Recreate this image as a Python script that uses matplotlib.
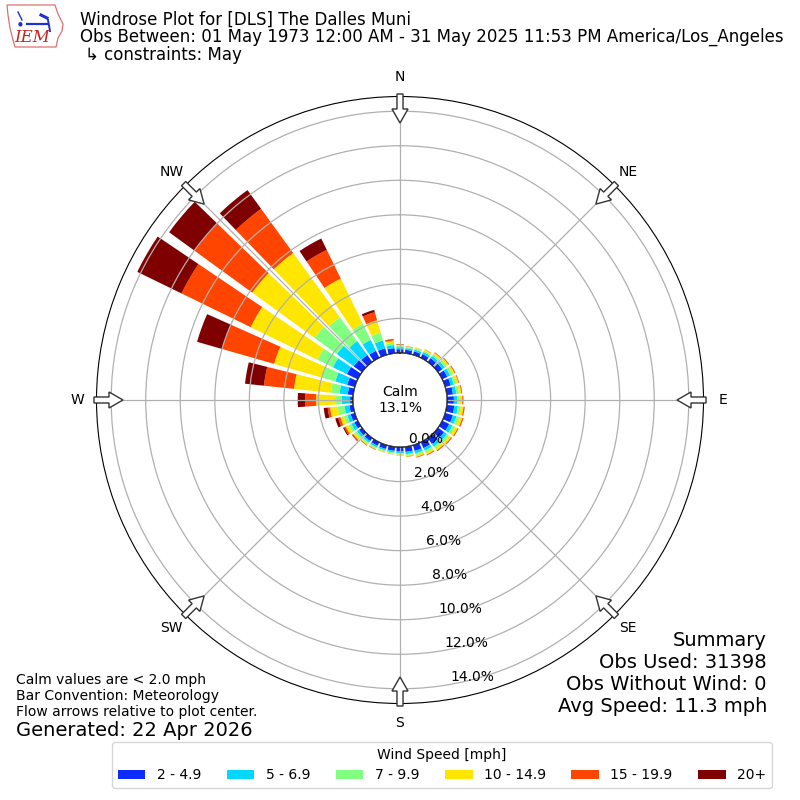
import numpy as np
import matplotlib
matplotlib.use("Agg")
import matplotlib.pyplot as plt
from matplotlib.patches import Circle, FancyArrow, Polygon
from matplotlib.lines import Line2D

# ---------------- data (percent of observations) ----------------
directions = [10, 20, 30, 40, 50, 60, 70, 80, 90, 100, 110, 120, 130, 140, 150, 160, 170, 180,
              190, 200, 210, 220, 230, 240, 250, 260, 270, 280, 290, 300, 310, 320, 330, 340, 350, 360]

speed_labels = ["2 - 4.9", "5 - 6.9", "7 - 9.9", "10 - 14.9", "15 - 19.9", "20+"]
speed_colors = ["#0a2cff", "#00d8ff", "#80ff80", "#ffe600", "#ff4500", "#7f0000"]

s_2_5 = [0.20, 0.21, 0.24, 0.28, 0.31, 0.33, 0.34, 0.36, 0.40, 0.44, 0.46, 0.45, 0.44, 0.42, 0.38, 0.35, 0.30, 0.26,
         0.24, 0.23, 0.23, 0.22, 0.22, 0.22, 0.25, 0.22, 0.17, 0.32, 0.46, 0.70, 0.60, 0.50, 0.45, 0.40, 0.30, 0.22]
s_5_7 = [0.10, 0.11, 0.13, 0.16, 0.18, 0.19, 0.19, 0.20, 0.19, 0.21, 0.22, 0.21, 0.20, 0.19, 0.17, 0.15, 0.13, 0.11,
         0.10, 0.10, 0.11, 0.12, 0.15, 0.20, 0.21, 0.29, 0.48, 0.48, 0.72, 0.90, 1.20, 1.00, 0.70, 0.47, 0.18, 0.12]
s_7_10 = [0.06, 0.07, 0.09, 0.12, 0.14, 0.15, 0.15, 0.15, 0.15, 0.16, 0.17, 0.16, 0.15, 0.14, 0.13, 0.11, 0.08, 0.07,
          0.06, 0.06, 0.07, 0.09, 0.13, 0.18, 0.20, 0.39, 0.39, 0.50, 0.82, 1.00, 1.60, 1.70, 1.05, 0.47, 0.13, 0.08]
s_10_15 = [0.04, 0.05, 0.07, 0.10, 0.12, 0.13, 0.13, 0.14, 0.15, 0.17, 0.18, 0.17, 0.15, 0.14, 0.12, 0.10, 0.07, 0.05,
           0.04, 0.05, 0.06, 0.08, 0.13, 0.18, 0.21, 0.45, 1.10, 2.15, 2.86, 4.30, 4.45, 4.60, 2.90, 0.74, 0.13, 0.06]
s_15_20 = [0.015, 0.01, 0.02, 0.03, 0.04, 0.04, 0.03, 0.04, 0.05, 0.06, 0.06, 0.05, 0.05, 0.05, 0.04, 0.03, 0.02, 0.01,
           0.01, 0.01, 0.02, 0.03, 0.06, 0.10, 0.14, 0.14, 0.63, 1.75, 3.14, 4.45, 4.15, 3.16, 1.85, 0.49, 0.08, 0.03]
s_20p = [0.005, 0.0, 0.0, 0.01, 0.01, 0.01, 0.01, 0.01, 0.01, 0.01, 0.01, 0.01, 0.01, 0.01, 0.01, 0.01, 0.0, 0.0,
         0.0, 0.0, 0.01, 0.01, 0.03, 0.07, 0.17, 0.23, 0.43, 1.10, 1.50, 2.85, 1.80, 1.34, 0.73, 0.14, 0.02, 0.01]

speed_series = [s_2_5, s_5_7, s_7_10, s_10_15, s_15_20, s_20p]

radial_ticks = [0, 2, 4, 6, 8, 10, 12, 14]
compass_angles = [0, 45, 90, 135, 180, 225, 270, 315]
compass_labels = ["N", "NE", "E", "SE", "S", "SW", "W", "NW"]

calm_pct = 13.1
title_lines = ["Windrose Plot for [DLS] The Dalles Muni",
               "Obs Between: 01 May 1973 12:00 AM - 31 May 2025 11:53 PM America/Los_Angeles",
               "\u21b3 constraints: May"]
summary_lines = ["Summary", "Obs Used: 31398", "Obs Without Wind: 0", "Avg Speed: 11.3 mph"]
note_lines = ["Calm values are < 2.0 mph", "Bar Convention: Meteorology",
              "Flow arrows relative to plot center."]
generated = "Generated: 22 Apr 2026"

# ---------------- figure ----------------
W = H = 800
fig = plt.figure(figsize=(8, 8), dpi=100)
R_PX = 303.5
ax_size = 2 * R_PX / W
ax = fig.add_axes([0.5 - ax_size / 2, 0.5 - ax_size / 2, ax_size, ax_size], projection="polar")
ax.set_theta_zero_location("N")
ax.set_theta_direction(-1)
ax.set_rorigin(-2.72)
ax.set_ylim(0, 14.85)

theta = np.deg2rad(directions)
bottom = np.zeros(len(directions))
for vals, col, lab in zip(speed_series, speed_colors, speed_labels):
    v = np.array(vals)
    ax.bar(theta, v, width=np.deg2rad(8.0), bottom=bottom, color=col, linewidth=0,
           label=lab, zorder=1.5)
    bottom = bottom + v

ax.set_axisbelow(False)
ax.set_yticks(radial_ticks)
ax.set_yticklabels(["%.1f%%" % t for t in radial_ticks], fontsize=10)
ax.set_rlabel_position(170)
ax.set_xticks(np.deg2rad(compass_angles))
ax.set_xticklabels(compass_labels, fontsize=10)
ax.tick_params(axis="x", pad=3.5)
ax.grid(True, color="#b0b0b0", linewidth=0.9)

# calm circle
r0_frac = 2.72 / (14.85 + 2.72) * 0.5
ax.add_patch(Circle((0.5, 0.5), r0_frac, transform=ax.transAxes, facecolor="white",
                    edgecolor="black", linewidth=1.0, zorder=3))
ax.text(0.5, 0.5, "Calm\n%.1f%%" % calm_pct, transform=ax.transAxes, ha="center",
        va="center", fontsize=10, zorder=4)

# flow arrows
rt = 306.0 / (2 * R_PX)
rh = 277.0 / (2 * R_PX)
for a in compass_angles:
    s, c = np.sin(np.deg2rad(a)), np.cos(np.deg2rad(a))
    x0, y0 = 0.5 + rt * s, 0.5 + rt * c
    arr = FancyArrow(x0, y0, -(rt - rh) * s, -(rt - rh) * c, width=6 / 607, head_width=16 / 607,
                     head_length=14 / 607, length_includes_head=True, transform=ax.transAxes,
                     facecolor="white", edgecolor="#333333", linewidth=1.0, clip_on=False, zorder=6)
    ax.add_patch(arr)


def fy(y):
    return 1 - y / H


def fp(pts):
    return [(x / W, fy(y)) for x, y in pts]


# titles
fig.text(80 / W, fy(20), title_lines[0], fontsize=12, va="center", ha="left")
fig.text(80 / W, fy(37), title_lines[1], fontsize=12, va="center", ha="left")
fig.text(85 / W, fy(55), title_lines[2], fontsize=12, va="center", ha="left")

# logo approximation
outline = Polygon(fp([(7, 5), (55, 5), (58, 14), (63, 24), (62, 31), (58, 38), (56, 47), (15, 47),
                      (13, 40), (10, 28), (8, 15)]),
                  closed=True, transform=fig.transFigure, fill=False, edgecolor="#e07070", linewidth=0.9)
fig.add_artist(outline)
for seg, lw in [([(27, 24), (48, 24)], 1.6), ([(18, 12), (22, 20)], 1.0), ([(41, 15), (47, 18)], 2.2),
                ([(48, 20), (50, 31)], 1.4)]:
    fig.add_artist(Line2D([p[0] for p in fp(seg)], [p[1] for p in fp(seg)], transform=fig.transFigure,
                          color="#1f2fd0", linewidth=lw))
fig.text(20 / W, fy(24), "\u25cf", fontsize=4, color="#1f2fd0", ha="center", va="center")
fig.text(32 / W, fy(37), "IEM", fontsize=12, color="#cc2222", family="DejaVu Serif",
         style="italic", ha="center", va="center")

# summary
for i, line in enumerate(summary_lines):
    fig.text(767 / W, fy(640 + 22 * i), line, fontsize=14, ha="right", va="center")

for i, line in enumerate(note_lines):
    fig.text(16 / W, fy(680 + 16 * i), line, fontsize=10, ha="left", va="center")
fig.text(16 / W, fy(730), generated, fontsize=14, ha="left", va="center")

handles, labels = ax.get_legend_handles_labels()
leg = fig.legend(handles, labels, loc="lower center", bbox_to_anchor=(442 / W, 12 / H), ncol=6,
                 title="Wind Speed [mph]", fontsize=10, title_fontsize=10, frameon=True,
                 borderaxespad=0, columnspacing=1.85)

fig.savefig("out.png", dpi=100)
